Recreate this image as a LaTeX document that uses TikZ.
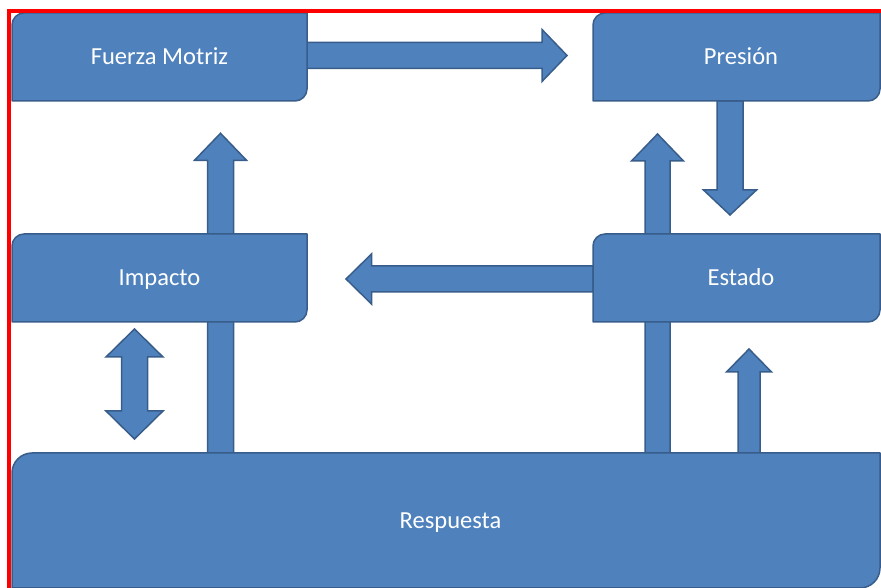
\documentclass[tikz,border=0pt]{standalone}
\usepackage{fontspec}
\setmainfont{Carlito}
\usetikzlibrary{calc}
\pgfdeclarelayer{arrowlayer}
\pgfdeclarelayer{boxlayer}
\pgfsetlayers{arrowlayer,boxlayer,main}
\definecolor{boxfill}{HTML}{4F81BD}
\definecolor{boxedge}{HTML}{385D8A}
\definecolor{framered}{HTML}{FF0000}
\tikzset{
  boxlabel/.style={draw=none, inner sep=0pt, outer sep=0pt, text=white,
    text height=16pt, text depth=0pt,
    font=\fontsize{24.5}{29}\selectfont},
  boxshape/.style={fill=boxfill, draw=boxedge, line width=1.5pt, line join=round},
  blockarrowstyle/.style={fill=boxfill, draw=boxedge, line width=1.5pt, line join=miter},
}
% box with rounded top-left and bottom-right corners
\newcommand\diagbox[2]{%
  \filldraw[boxshape] ($(#1.north west)+(0,-#2)$)
    arc[start angle=180,end angle=90,radius=#2pt] -- (#1.north east)
    -- ($(#1.south east)+(0,#2)$)
    arc[start angle=0,end angle=-90,radius=#2pt] -- (#1.south west) -- cycle;}
% single block arrow: start, tip, shaft half width, head half width, head length
\newcommand\blockarrow[5]{%
  \coordinate (ba-h) at ($(#2)!#5!(#1)$);
  \filldraw[blockarrowstyle] ($(#1)!#3!90:(#2)$) -- ($(ba-h)!#3!-90:(#1)$)
    -- ($(ba-h)!#4!-90:(#1)$) -- (#2) -- ($(ba-h)!#4!90:(#1)$)
    -- ($(ba-h)!#3!90:(#1)$) -- ($(#1)!#3!-90:(#2)$) -- cycle;}
% double block arrow: tip a, tip b, shaft half width, head half width, head length
\newcommand\doubleblockarrow[5]{%
  \coordinate (dba-h1) at ($(#1)!#5!(#2)$);
  \coordinate (dba-h2) at ($(#2)!#5!(#1)$);
  \filldraw[blockarrowstyle] (#1) -- ($(dba-h1)!#4!90:(#2)$) -- ($(dba-h1)!#3!90:(#2)$)
    -- ($(dba-h2)!#3!-90:(#1)$) -- ($(dba-h2)!#4!-90:(#1)$) -- (#2)
    -- ($(dba-h2)!#4!90:(#1)$) -- ($(dba-h2)!#3!90:(#1)$)
    -- ($(dba-h1)!#3!-90:(#2)$) -- ($(dba-h1)!#4!-90:(#2)$) -- cycle;}

\begin{document}
\begin{tikzpicture}[x=1pt,y=1pt]
\useasboundingbox (0,0) rectangle (881,588);

% nodes (text)
\node[boxlabel, minimum width=295pt, minimum height=88pt] (FM) at (159.5,531) {Fuerza Motriz};
\node[boxlabel, minimum width=287pt, minimum height=88pt] (P)  at (736.5,531) {\hspace*{9pt}Presión};
\node[boxlabel, minimum width=295pt, minimum height=88pt] (I)  at (159.5,310) {Impacto};
\node[boxlabel, minimum width=287pt, minimum height=88pt] (E)  at (736.5,310) {\hspace*{9pt}Estado};
\node[boxlabel, minimum width=868pt, minimum height=135pt] (R) at (446,67.5) {\hspace*{9pt}Respuesta};

% box shapes
\begin{pgfonlayer}{boxlayer}
  \diagbox{FM}{12}
  \diagbox{P}{12}
  \diagbox{I}{12}
  \diagbox{E}{12}
  \diagbox{R}{20}
\end{pgfonlayer}

% arrow end points
\coordinate (a1s) at ($(FM.east)+(0,1.5)$);
\coordinate (a1t) at ($(P.west)+(-26,1.5)$);
\coordinate (a2s) at ($(P.south west)+(137,0)$);
\coordinate (a2t) at ($(E.north west)+(137,19)$);
\coordinate (a3t) at ($(P.south west)+(64.5,-33)$);
\coordinate (a3s) at (a3t |- R.north);
\coordinate (a4t) at ($(E.south west)+(156,-27)$);
\coordinate (a4s) at (a4t |- R.north);
\coordinate (a5s) at ($(E.west)+(0,-1)$);
\coordinate (a5t) at ($(I.east)+(39,-1)$);
\coordinate (a6t) at ($(FM.south west)+(208.5,-32.3)$);
\coordinate (a6s) at (a6t |- R.north);
\coordinate (a7a) at ($(I.south west)+(122.5,-7)$);
\coordinate (a7b) at ($(R.north west)+(122.5,14)$);

\begin{pgfonlayer}{arrowlayer}
  \blockarrow{a1s}{a1t}{13pt}{26pt}{25pt}
  \blockarrow{a2s}{a2t}{13pt}{26.5pt}{25pt}
  \blockarrow{a3s}{a3t}{12.5pt}{26pt}{27pt}
  \blockarrow{a4s}{a4t}{11pt}{22.5pt}{23pt}
  \blockarrow{a5s}{a5t}{13pt}{25pt}{25.5pt}
  \blockarrow{a6s}{a6t}{13pt}{26pt}{27pt}
  \doubleblockarrow{a7a}{a7b}{13pt}{28.5pt}{28pt}
\end{pgfonlayer}

% red frame
\coordinate (fr-bl) at (9.2,-5);
\coordinate (fr-tl) at (9.2,577.2);
\coordinate (fr-tr) at (890,577.2);
\draw[framered, line width=3.5pt] (fr-bl) -- (fr-tl) -- (fr-tr);
\end{tikzpicture}
\end{document}
